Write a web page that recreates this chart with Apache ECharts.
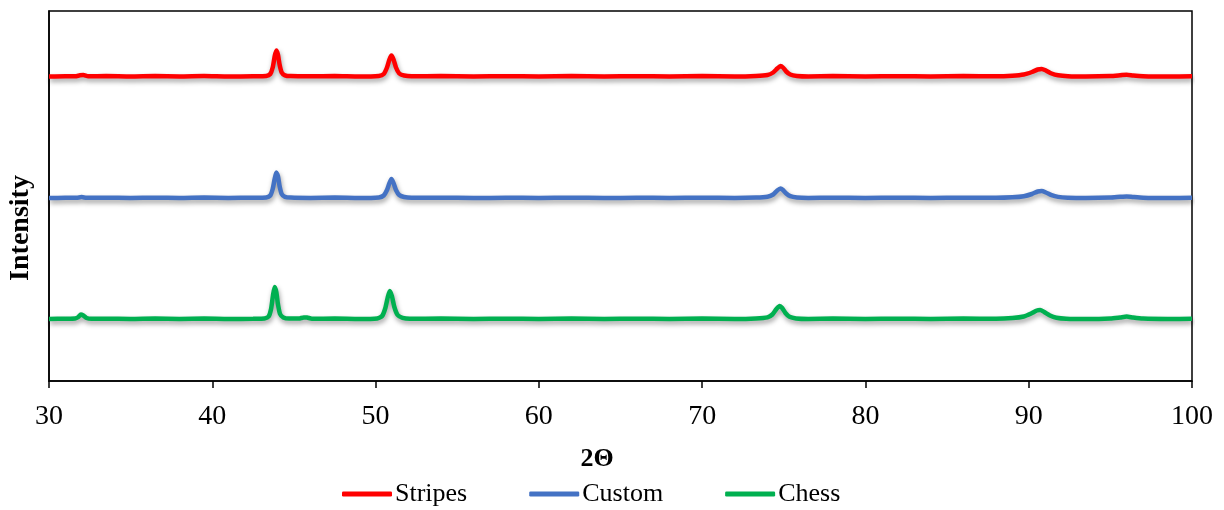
<!DOCTYPE html>
<html>
<head>
<meta charset="utf-8">
<script src="https://cdn.jsdelivr.net/npm/echarts@6/dist/echarts.min.js"></script>
<style>
html,body{margin:0;padding:0;background:#fff;}
#c{width:1224px;height:510px;}
</style>
</head>
<body>
<div id="c"></div>
<script>
// Series names and colours
const seriesNames = ['Stripes', 'Custom', 'Chess'];
const seriesColors = ['#FF0000', '#4472C4', '#00B050'];
// Vertical offsets (baseline of each stacked pattern, in intensity units)
const offsets = [304.5, 183, 62];
// x tick labels
const xTicks = [30, 40, 50, 60, 70, 80, 90, 100];

// [2theta, intensity above baseline]
const stripes = [
  [30,0],[31,0.3],[31.6,0.2],[31.9,1.2],[32.1,1.4],[32.4,0.2],[33.5,0.4],[35,0],[36.5,0.4],[38,0.1],[39.5,0.5],[41,0],[42.5,0.3],
  [43.3,0.6],[43.55,2.5],[43.7,9],[43.82,20],[43.92,26],[44.02,22],[44.12,12],[44.25,4],[44.45,1.2],[44.8,0.4],
  [46,0.2],[47.5,0.5],[49,0],[50.2,0.6],[50.5,2.5],[50.7,9],[50.85,17],[50.97,21],[51.1,17],[51.25,9],[51.45,3],[51.75,1],[52.2,0.3],
  [54,0.4],[56,0],[58,0.3],[60,0.1],[62,0.4],[64,0],[66,0.3],[68,0.1],[70,0.4],[72,0],[73.3,0.5],
  [74.0,1.5],[74.35,4],[74.6,8],[74.8,10.5],[74.95,9],[75.15,5],[75.4,2],[75.8,0.6],[76.5,0.1],
  [78,0.4],[80,0],[82,0.3],[84,0.1],[86,0.4],[88,0.2],[89,0.8],[89.7,2],[90.2,4.5],[90.55,7],[90.8,7.6],[91.05,6],[91.4,3],[91.8,1.2],[92.4,0.3],
  [93.5,0],[95,0.4],[95.6,1.2],[96.0,1.8],[96.4,1],[97,0.3],[98.5,0],[100,0.2]
];
const custom = [
  [30,0],[31,0.2],[31.7,0.3],[32.0,0.9],[32.3,0.2],[33.5,0.3],[35,0],[36.5,0.3],[38,0],[39.5,0.4],[41,0.1],[42.5,0.3],
  [43.3,0.6],[43.55,2.5],[43.7,9],[43.82,19],[43.92,25.5],[44.02,22],[44.12,12],[44.25,4],[44.45,1.2],[44.8,0.4],
  [46,0.1],[47.5,0.4],[49,0],[50.2,0.6],[50.5,2.5],[50.7,8],[50.85,15],[50.97,19],[51.1,15],[51.25,8],[51.45,3],[51.75,1],[52.2,0.3],
  [54,0.3],[56,0],[58,0.2],[60,0.1],[62,0.3],[64,0],[66,0.2],[68,0.1],[70,0.3],[72,0],[73.3,0.4],
  [74.0,1.3],[74.35,3.5],[74.6,7.5],[74.8,9.5],[74.95,8],[75.15,4.5],[75.4,1.8],[75.8,0.5],[76.5,0.1],
  [78,0.3],[80,0],[82,0.3],[84,0.1],[86,0.3],[88,0.2],[89,0.7],[89.7,1.8],[90.2,4],[90.55,6.5],[90.8,7],[91.05,5.5],[91.4,2.8],[91.8,1.1],[92.4,0.3],
  [93.5,0],[95,0.4],[95.6,1.2],[96.0,1.6],[96.4,1],[97,0.3],[98.5,0],[100,0.2]
];
const chess = [
  [30,0],[31,0.3],[31.6,0.5],[31.8,2],[31.95,4.5],[32.1,3.5],[32.3,1],[32.6,0.2],[33.5,0.3],[35,0],[36.5,0.4],[38,0.1],[39.5,0.4],[41,0],[42.5,0.3],
  [43.2,0.6],[43.45,2.5],[43.6,10],[43.72,24],[43.82,32],[43.92,27],[44.02,15],[44.15,5],[44.35,1.5],[44.7,0.4],
  [45.3,0.4],[45.6,1.6],[45.8,1.5],[46.1,0.3],[47.5,0.4],[49,0],[50.1,0.6],[50.4,3],[50.6,11],[50.75,22],[50.87,28],[51.0,23],[51.15,12],[51.35,4],[51.65,1.2],[52.1,0.3],
  [54,0.4],[56,0],[58,0.3],[60,0.1],[62,0.4],[64,0],[66,0.3],[68,0.1],[70,0.4],[72,0],[73.3,0.5],
  [74.0,1.6],[74.3,4.5],[74.55,10],[74.75,13],[74.9,11],[75.1,6],[75.35,2.2],[75.75,0.6],[76.5,0.1],
  [78,0.4],[80,0],[82,0.3],[84,0.1],[86,0.4],[88,0.2],[89,0.9],[89.7,2.5],[90.15,5.5],[90.5,8.5],[90.7,9],[90.95,7],[91.3,3.5],[91.7,1.3],[92.3,0.3],
  [93.5,0],[95,0.5],[95.6,1.6],[96.0,2.4],[96.4,1.4],[97,0.4],[98.5,0],[100,0.3]
];
const patterns = [stripes, custom, chess];

const FONT = '"Liberation Serif", "Times New Roman", serif';
const chart = echarts.init(document.getElementById('c'), null, {renderer: 'canvas'});

const series = patterns.map((pts, i) => ({
  name: seriesNames[i],
  type: 'line',
  showSymbol: false,
  symbol: 'none',
  smooth: 0.2,
  animation: false,
  color: seriesColors[i],
  lineStyle: {
    width: 4.5,
    color: seriesColors[i],
    shadowColor: 'rgba(0,0,0,0.38)',
    shadowBlur: 5,
    shadowOffsetX: 1,
    shadowOffsetY: 3
  },
  data: pts.map(p => [p[0], p[1] + offsets[i]])
}));

chart.setOption({
  animation: false,
  backgroundColor: '#fff',
  grid: {
    left: 49, right: 32, top: 11, bottom: 129,
    show: true, borderColor: '#000', borderWidth: 1.5, backgroundColor: 'transparent'
  },
  xAxis: {
    type: 'value',
    min: xTicks[0], max: xTicks[xTicks.length - 1], interval: 10,
    axisLine: {show: true, onZero: false, lineStyle: {color: '#000', width: 1.5}},
    axisTick: {show: true, inside: false, length: 7, lineStyle: {color: '#000', width: 1.5}},
    axisLabel: {color: '#000', fontFamily: FONT, fontSize: 28, margin: 22},
    splitLine: {show: false}
  },
  yAxis: {
    type: 'value',
    min: 0, max: 370,
    axisLine: {show: true, lineStyle: {color: '#000', width: 1.5}},
    axisTick: {show: false},
    axisLabel: {show: false},
    splitLine: {show: false}
  },
  legend: {
    show: true,
    left: 342, top: 481,
    itemWidth: 50, itemHeight: 5, itemGap: 62,
    icon: 'roundRect',
    padding: 0,
    textStyle: {color: '#000', fontFamily: FONT, fontSize: 26, padding: [0, 0, 0, -2]},
    data: seriesNames
  },
  graphic: [
    {type: 'text', x: 597, y: 459,
     style: {text: '2Θ', fontFamily: FONT, fontSize: 26, fontWeight: 'bold', fill: '#000', align: 'center', verticalAlign: 'middle'}},
    {type: 'text', x: 21, y: 228, rotation: Math.PI / 2,
     style: {text: 'Intensity', fontFamily: FONT, fontSize: 28, fontWeight: 'bold', fill: '#000', align: 'center', verticalAlign: 'middle'}}
  ],
  series: series
});
</script>
</body>
</html>
